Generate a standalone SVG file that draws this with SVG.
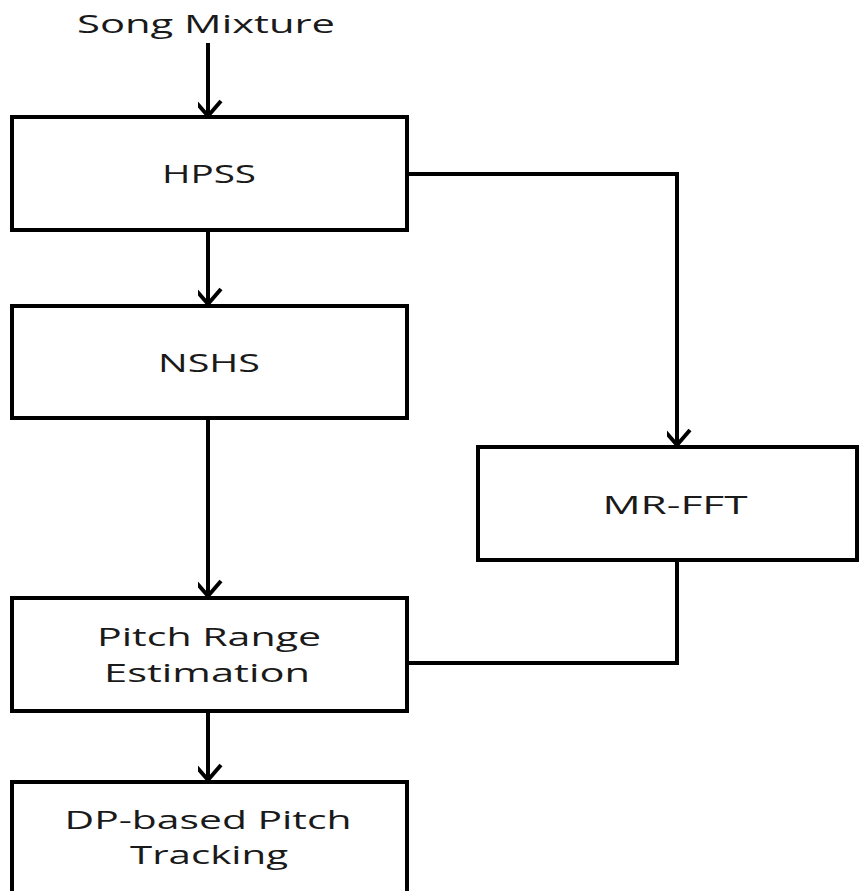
<svg xmlns="http://www.w3.org/2000/svg" width="865" height="891" viewBox="0 0 865 891">
<style>
.box{fill:#fff;stroke:#000;stroke-width:4}
.ln{fill:none;stroke:#000;stroke-width:4}
.t{font-family:"Open Sans","Liberation Sans",sans-serif;font-size:26px;fill:#1a1a1a}
</style>
<defs>
<marker id="arr" markerUnits="userSpaceOnUse" markerWidth="40" markerHeight="40" viewBox="-20 -30 40 40" refX="0" refY="0" orient="auto">
<path d="M-15,-13 L0,0 L-15,13" fill="none" stroke="#000" stroke-width="4"/>
</marker>
</defs>
<rect width="865" height="891" fill="#fff"/>
<g id="connectors">
<path class="ln" d="M208,43 V116" marker-end="url(#arr)"/>
<path class="ln" d="M208,230 V304" marker-end="url(#arr)"/>
<path class="ln" d="M208,418 V596" marker-end="url(#arr)"/>
<path class="ln" d="M208,711 V780" marker-end="url(#arr)"/>
<path class="ln" d="M407,174 H677 V445" marker-end="url(#arr)"/>
<path class="ln" d="M677,560 V663 H407"/>
</g>
<g id="song-mixture">
<text class="t" x="206" y="33" text-anchor="middle" textLength="258" lengthAdjust="spacingAndGlyphs">Song Mixture</text>
</g>
<g id="hpss">
<rect class="box" x="12" y="117" width="395" height="113"/>
<text class="t" x="209" y="183" text-anchor="middle" textLength="94" lengthAdjust="spacingAndGlyphs">HPSS</text>
</g>
<g id="nshs">
<rect class="box" x="12" y="306" width="395" height="112"/>
<text class="t" x="209" y="372" text-anchor="middle" textLength="102" lengthAdjust="spacingAndGlyphs">NSHS</text>
</g>
<g id="mr-fft">
<rect class="box" x="478" y="447" width="379" height="113"/>
<text class="t" x="675" y="514" text-anchor="middle" textLength="145" lengthAdjust="spacingAndGlyphs">MR-FFT</text>
</g>
<g id="pitch-range">
<rect class="box" x="12" y="598" width="395" height="113"/>
<text class="t" x="209" y="646" text-anchor="middle" textLength="224" lengthAdjust="spacingAndGlyphs">Pitch Range</text>
<text class="t" x="207" y="682" text-anchor="middle" textLength="206" lengthAdjust="spacingAndGlyphs">Estimation</text>
</g>
<g id="dp-tracking">
<rect class="box" x="12" y="782" width="395" height="130"/>
<text class="t" x="208" y="829" text-anchor="middle" textLength="287" lengthAdjust="spacingAndGlyphs">DP-based Pitch</text>
<text class="t" x="209" y="864" text-anchor="middle" textLength="158" lengthAdjust="spacingAndGlyphs">Tracking</text>
</g>
</svg>
